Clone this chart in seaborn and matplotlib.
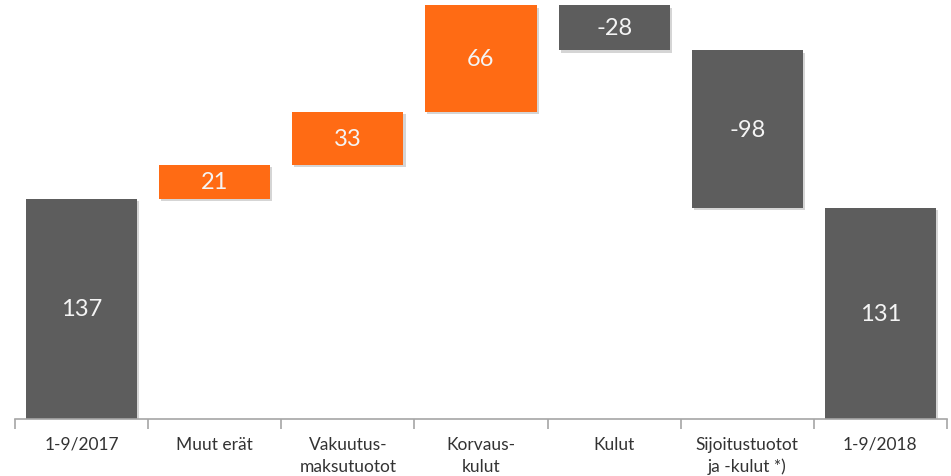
import pandas as pd
import seaborn as sns
import matplotlib.pyplot as plt
import matplotlib.patheffects as pe
from matplotlib.ticker import FixedLocator

# -----------------------------
# Data
# -----------------------------
categories = [
    "1-9/2017",
    "Muut erät",
    "Vakuutus-\nmaksutuotot",
    "Korvaus-\nkulut",
    "Kulut",
    "Sijoitustuotot\nja -kulut *)",
    "1-9/2018",
]
changes = [137, 21, 33, 66, -28, -98, 131]
is_total = [True, False, False, False, False, False, True]

# waterfall: start of each bar
bottoms = []
heights = []
kinds = []
running = 0
for val, tot in zip(changes, is_total):
    if tot:
        bottoms.append(0)
        heights.append(val)
        running = val
        kinds.append("gray")
    else:
        if val >= 0:
            bottoms.append(running)
            heights.append(val)
            kinds.append("orange")
        else:
            bottoms.append(running + val)
            heights.append(-val)
            kinds.append("gray")
        running += val

df = pd.DataFrame({
    "cat": categories,
    "bottom": bottoms,
    "height": heights,
    "kind": kinds,
    "label": [str(v) for v in changes],
})

colors = {"gray": "#5d5d5d", "orange": "#ff6b14"}

# -----------------------------
# Plot
# -----------------------------
sns.set_style("white")
plt.rcParams["font.family"] = ["Lato", "DejaVu Sans"]

fig = plt.figure(figsize=(9.51, 4.77), dpi=100)
ax = fig.add_axes([15 / 951, 1 - 420 / 477, 932 / 951, 420 / 477])

shadow = [pe.SimplePatchShadow(offset=(1.5, -1.5), shadow_rgbFace="#888888", alpha=0.35),
          pe.Normal()]

for kind, sub in df.groupby("kind"):
    sns.barplot(
        data=sub,
        x="cat",
        y="height",
        order=categories,
        color=colors[kind],
        saturation=1,
        width=0.835,
        bottom=sub["bottom"].values,
        linewidth=0,
        ax=ax,
    )

for p in ax.patches:
    p.set_path_effects(shadow)

# value labels
for i, row in df.iterrows():
    ax.text(i, row["bottom"] + row["height"] / 2, row["label"],
            ha="center", va="center", color="#f4f4f4", fontsize=17)

ax.set_xlim(-0.5, len(categories) - 0.5)
ax.set_ylim(0, 261)
ax.set_xlabel("")
ax.set_ylabel("")
ax.set_yticks([])

for side in ["top", "right", "left"]:
    ax.spines[side].set_visible(False)
ax.spines["bottom"].set_color("#a6a6a6")
ax.spines["bottom"].set_linewidth(1.2)

ax.tick_params(axis="x", which="major", length=0, pad=12,
               labelsize=12.5, labelcolor="#333333")
ax.xaxis.set_minor_locator(FixedLocator([i - 0.5 for i in range(len(categories) + 1)]))
ax.tick_params(axis="x", which="minor", length=7, width=1.2, color="#a6a6a6",
               direction="out", bottom=True)
ax.set_xticklabels(categories, linespacing=1.45)

plt.savefig("out.png", dpi=100)
